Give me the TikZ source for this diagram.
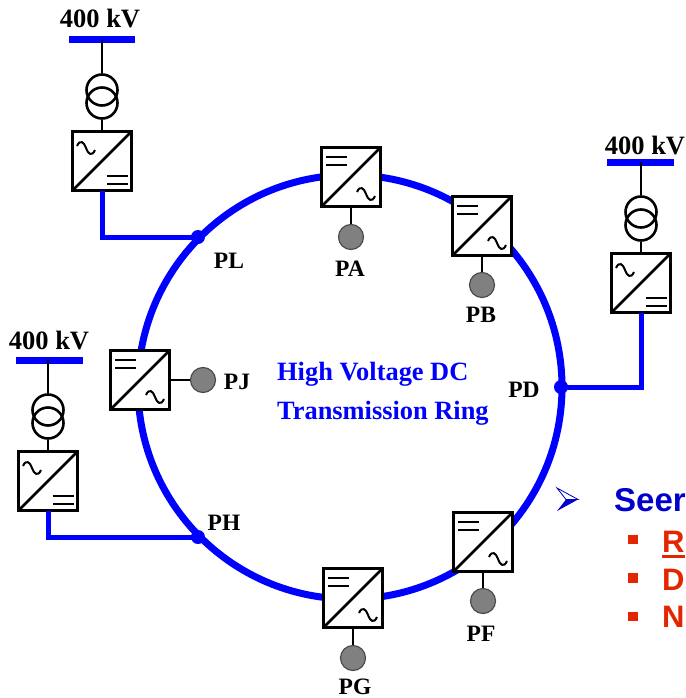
\documentclass[tikz,border=0pt]{standalone}
\usepackage{fontspec}
\setmainfont{Liberation Serif}
\newfontfamily\arialf{Liberation Sans}
\definecolor{ringblue}{RGB}{0,0,255}
\definecolor{navyb}{RGB}{0,0,204}
\definecolor{redt}{RGB}{227,38,0}
\definecolor{loadgray}{RGB}{128,128,128}
\tikzset{
  ring/.style={draw=ringblue,line width=7pt},
  feeder/.style={draw=ringblue,line width=5pt,line join=miter},
  bus/.style={draw=ringblue,line width=7pt},
  blk/.style={draw=black,line width=2.6pt},
  thinblk/.style={draw=black,line width=2pt},
  convbox/.style={draw=black,fill=white,line width=3pt,minimum size=59pt,inner sep=0pt,outer sep=0pt},
  load/.style={circle,draw=black!70,fill=loadgray,line width=1.2pt,minimum size=25pt,inner sep=0pt},
  winding/.style={circle,draw=black,line width=2.6pt,minimum size=31pt,inner sep=0pt},
  dot/.style={circle,fill=ringblue,minimum size=14pt,inner sep=0pt},
  lbl/.style={font=\fontsize{23.5}{25}\selectfont\bfseries,text=black,inner sep=0pt},
  kv/.style={font=\fontsize{26.5}{28}\selectfont\bfseries,text=black,inner sep=0pt},
  ringtxt/.style={font=\fontsize{26.4}{28}\selectfont\bfseries,text=ringblue,inner sep=0pt,anchor=west},
  seer/.style={font=\arialf\fontsize{33}{35}\selectfont\bfseries,text=navyb,inner sep=0pt,anchor=base west},
  item/.style={font=\arialf\fontsize{31}{33}\selectfont\bfseries,text=redt,inner sep=0pt,anchor=base west},
  bullet/.style={fill=redt,minimum size=9.5pt,inner sep=0pt},
}
\newcommand{\wave}[2]{\draw[thinblk,shift={(#1)},shift={(#2)}] (-9,-2) .. controls (-6,-9) and (-2,-6) .. (0,0) .. controls (2,6) and (6,9) .. (9,2);}
\newcommand{\dcsym}[2]{\draw[thinblk,shift={(#1)},shift={(#2)}] (-10.5,-4) -- (10.5,-4) (-10.5,4) -- (10.5,4);}
\newcommand{\convA}[3]{% DC top-left
  \node[convbox] (#1) at (#2,#3) {};
  \draw[blk] (#1.south west) -- (#1.north east);
  \dcsym{#1}{-14.5,-16}
  \wave{#1}{15,17}}
\newcommand{\convB}[3]{% AC top-left
  \node[convbox] (#1) at (#2,#3) {};
  \draw[blk] (#1.south west) -- (#1.north east);
  \wave{#1}{-16,-13}
  \dcsym{#1}{15,19}}
\begin{document}
\begin{tikzpicture}[x=1pt,y=-1pt]
\useasboundingbox (0,0) rectangle (685,698);
\clip (0,0) rectangle (685,698);
\fill[white] (0,0) rectangle (685,698);
\coordinate (ringc) at (350,387);
\draw[ring] (ringc) circle[radius=212];
% junctions
\node[dot] (jl) at (198,237) {};
\node[dot] (jd) at (561,387) {};
\node[dot] (jh) at (198,537) {};
% ring converters
\convA{ca}{351}{177}
\convA{cb}{482}{226}
\convA{cj}{140}{380}
\convA{cf}{483}{542}
\convA{cg}{353}{598}
% loads
\node[load] (la) at (351,237) {};
\node[load] (lb) at (482,285) {};
\node[load] (lj) at (203,380) {};
\node[load] (lf) at (483,601) {};
\node[load] (lg) at (353,658) {};
\foreach \a/\b in {ca/la,cb/lb,cj/lj,cf/lf,cg/lg} \draw[blk] (\a) -- (\b);
% grid converters
\convB{c1}{102}{161}
\convB{c2}{641}{283}
\convB{c3}{48}{481}
\draw[feeder] (c1.south) |- (jl.center);
\draw[feeder] (c3.south) |- (jh.center);
\draw[feeder] (c2.south) |- (jd.center);
% buses
\coordinate (b1) at (102,40);
\coordinate (b2) at (641,162);
\coordinate (b3) at (48,360);
\draw[bus] (69,40) -- (135,40);
\draw[bus] (607,162) -- (674,162);
\draw[bus] (16,360) -- (83,360);
% transformers
\node[winding] (t1a) at (102,90) {};
\node[winding] (t1b) at (102,103) {};
\node[winding] (t2a) at (641,212) {};
\node[winding] (t2b) at (641,225) {};
\node[winding] (t3a) at (48,410) {};
\node[winding] (t3b) at (48,423) {};
\draw[blk] (b1) -- (t1a.north) (t1b.south) -- (c1.north);
\draw[blk] (b2) -- (t2a.north) (t2b.south) -- (c2.north);
\draw[blk] (b3) -- (t3a.north) (t3b.south) -- (c3.north);
% labels
\node[kv] at (100,19) {400 kV};
\node[kv] at (645,146) {400 kV};
\node[kv] at (49,341) {400 kV};
\node[lbl] at (229,261) {PL};
\node[lbl] at (350,269) {PA};
\node[lbl] at (481,315) {PB};
\node[lbl] at (237,382) {PJ};
\node[lbl] at (524,390) {PD};
\node[lbl] at (224,523) {PH};
\node[lbl] at (481,634) {PF};
\node[lbl] at (355,686.5) {PG};
\node[ringtxt] at (277,374.5) {High Voltage DC};
\node[ringtxt] at (277,413.5) {Transmission Ring};
% text at the right edge
\fill[navyb] (557,488) -- (578,499.5) -- (557,511) -- (566,499.5) -- cycle;
\draw[navyb,line width=.8pt,fill=white] (557,488) -- (578,499.5) -- (566,499.5) -- cycle;
\node[seer] at (614,511) {Seer};
\node[bullet] at (633,539.5) {};
\node[bullet] at (633,578) {};
\node[bullet] at (633,616.5) {};
\node[item] at (662,552) {R};
\fill[redt] (662,555) rectangle (685,558);
\node[item] at (662,590) {D};
\node[item] at (662,627) {N};
\end{tikzpicture}
\end{document}
